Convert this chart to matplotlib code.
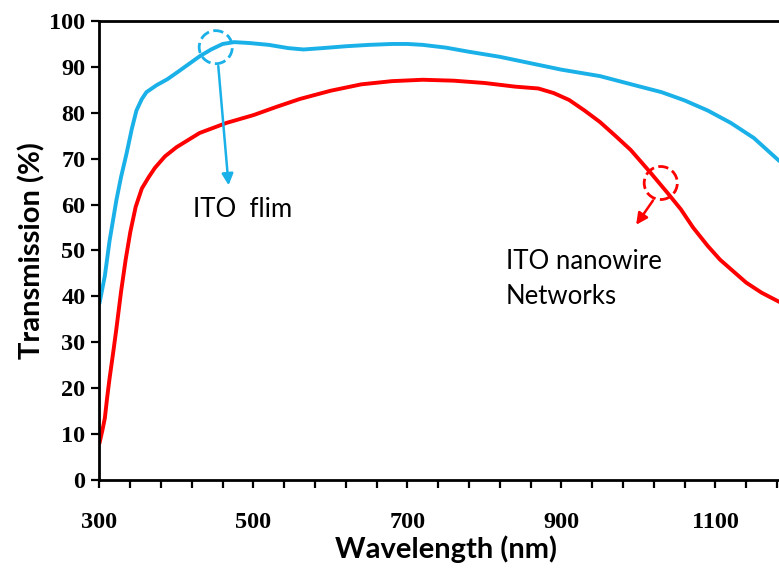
import numpy as np
import matplotlib.pyplot as plt
from matplotlib.patches import Ellipse
from matplotlib.ticker import FixedLocator, MultipleLocator

# ITO film (blue)
wl_film = [300, 307, 313, 318, 322, 328, 335, 342, 348, 355, 361, 374, 388, 400, 415,
           430, 445, 460, 475, 495, 520, 545, 565, 590, 620, 650, 680, 700, 720, 750,
           780, 820, 860, 900, 950, 1000, 1030, 1060, 1090, 1120, 1150, 1183]
tr_film = [38.5, 44.5, 52, 57, 61, 66, 71, 76.5, 80.5, 83, 84.5, 86, 87.3, 88.7, 90.5,
           92.3, 93.8, 95, 95.4, 95.2, 94.8, 94.1, 93.8, 94.1, 94.5, 94.8, 95, 95, 94.8, 94.2,
           93.3, 92.2, 90.8, 89.4, 88, 85.8, 84.5, 82.7, 80.5, 77.8, 74.5, 69.5]

# ITO nanowire networks (red)
wl_nw = [300, 304, 307, 310, 313, 318, 322, 328, 334, 340, 347, 355, 364, 372, 385,
         400, 430, 465, 500, 530, 560, 600, 640, 680, 720, 760, 800, 840, 870, 890,
         910, 930, 950, 970, 990, 1016, 1038, 1055, 1071, 1090, 1106, 1125, 1140, 1160, 1183]
tr_nw = [8, 11, 13.5, 18, 22, 28, 33, 41, 48, 54, 59.5, 63.5, 66, 68, 70.5,
         72.5, 75.6, 77.8, 79.5, 81.3, 83, 84.8, 86.2, 86.9, 87.2, 87, 86.5, 85.7, 85.3, 84.3,
         82.8, 80.5, 78, 75, 71.9, 66.9, 62.5, 59, 55, 51, 48, 45.2, 43, 40.8, 38.8]

x_labels = [300, 500, 700, 900, 1100]

blue = '#1AB0E8'
red = '#FF0000'

fig = plt.figure(figsize=(7.79, 5.68), dpi=100)
ax = fig.add_axes([0.1277, 0.155, 0.8895, 0.808])

ax.plot(wl_film, tr_film, color=blue, lw=2.8, solid_capstyle='round')
ax.plot(wl_nw, tr_nw, color=red, lw=2.8, solid_capstyle='round')

ax.set_xlim(300, 1200)
ax.set_ylim(0, 100)

ax.xaxis.set_major_locator(FixedLocator(x_labels))
ax.xaxis.set_minor_locator(FixedLocator(np.arange(300, 1201, 40)))
ax.yaxis.set_major_locator(MultipleLocator(10))
ax.tick_params(axis='x', which='both', direction='out', length=6, width=1.6, pad=17)
ax.tick_params(axis='y', which='major', direction='out', length=6, width=1.6, pad=4)
for lab in ax.get_xticklabels() + ax.get_yticklabels():
    lab.set_family('Liberation Serif')
    lab.set_fontweight('bold')
    lab.set_fontsize(17.5)

for s in ['left', 'bottom', 'top']:
    ax.spines[s].set_linewidth(2)
ax.spines['right'].set_visible(False)

ax.set_xlabel('Wavelength (nm)', family='Lato', fontweight='bold', fontsize=21, labelpad=2)
ax.set_ylabel('Transmission (%)', family='Lato', fontweight='bold', fontsize=21, labelpad=3)

# dashed circles and arrows
ax.add_patch(Ellipse((451, 94.3), 43, 7.2, fill=False, ls='--', lw=2, color=blue))
ax.annotate('', xy=(468, 63.6), xytext=(454, 90.8),
            arrowprops=dict(arrowstyle='-|>', color=blue, lw=1.8, mutation_scale=17))
ax.add_patch(Ellipse((1029, 64.7), 43, 7.2, fill=False, ls='--', lw=2, color=red))
ax.annotate('', xy=(995, 55.1), xytext=(1021, 61.4),
            arrowprops=dict(arrowstyle='-|>', color=red, lw=1.8, mutation_scale=17))

ax.text(421, 59, 'ITO  flim', family='Lato', fontsize=18.5, va='center', ha='left')
ax.text(828, 47.5, 'ITO nanowire', family='Lato', fontsize=18.5, va='center', ha='left')
ax.text(828, 40, 'Networks', family='Lato', fontsize=18.5, va='center', ha='left')

fig.savefig('out.png', dpi=100)
